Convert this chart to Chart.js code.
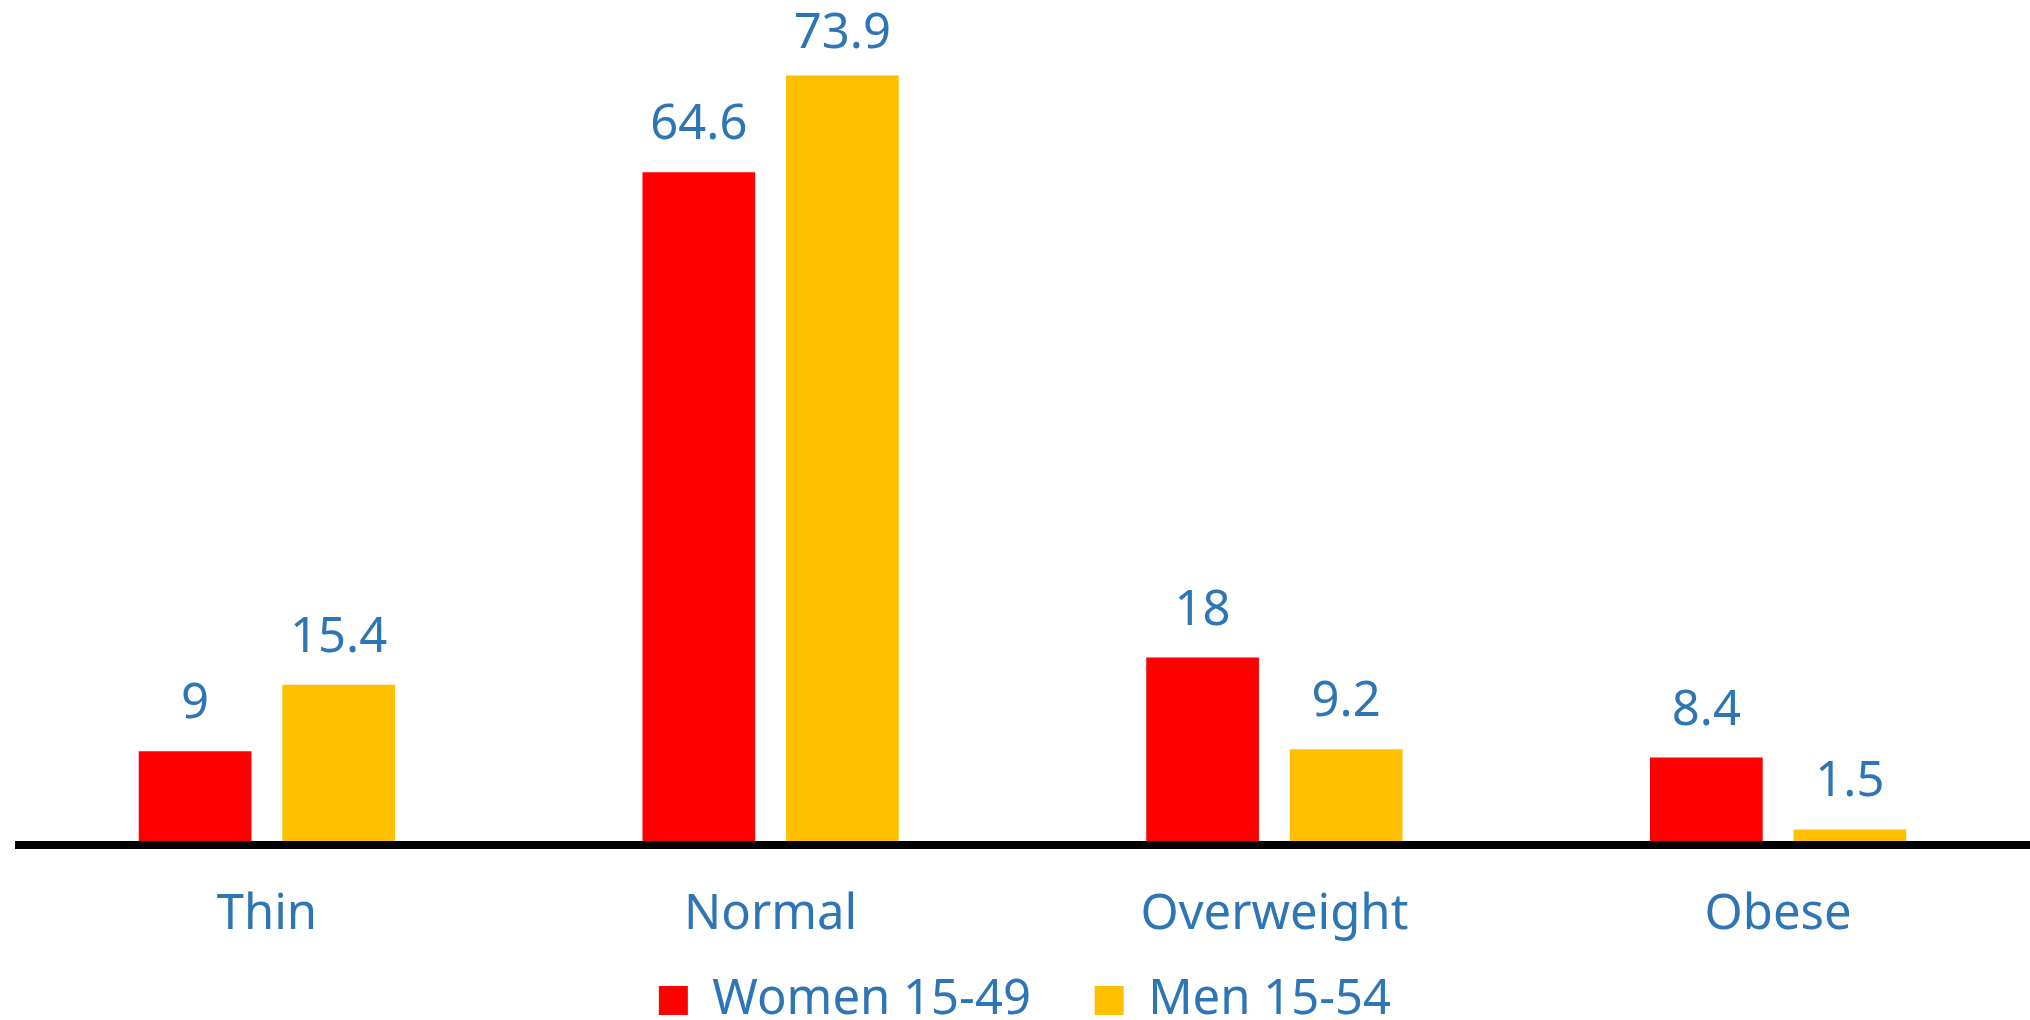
<!DOCTYPE html>
<html lang="en">
<head>
  <meta charset="UTF-8" />
  <title>Nutritional status</title>
  <script src="https://cdn.jsdelivr.net/npm/chart.js"></script>
  <style>
    html, body { margin: 0; padding: 0; background: #fff; overflow: hidden; }
    #wrap { width: 2030px; height: 1020px; }
  </style>
</head>
<body>
  <div id="wrap"><canvas id="chart"></canvas></div>
  <script>
    // data
    const categories = ['Thin', 'Normal', 'Overweight', 'Obese'];
    const women = [9, 64.6, 18, 8.4];
    const men = [15.4, 73.9, 9.2, 1.5];
    const seriesNames = ['Women 15-49', 'Men 15-54'];

    const textBlue = '#2E75B6';
    const font = { family: "'Noto Sans', sans-serif", size: 49 };

    // value labels above each bar
    const barLabels = {
      id: 'barLabels',
      afterDatasetsDraw(chart) {
        const ctx = chart.ctx;
        ctx.save();
        ctx.font = `${font.size}px ${font.family}`;
        ctx.fillStyle = textBlue;
        ctx.textAlign = 'center';
        ctx.textBaseline = 'alphabetic';
        chart.data.datasets.forEach((ds, i) => {
          chart.getDatasetMeta(i).data.forEach((bar, j) => {
            const y = Math.max(bar.y - 33, chart.chartArea.top + 36);
            ctx.fillText(String(ds.data[j]), bar.x, y);
          });
        });
        ctx.restore();
      }
    };

    new Chart(document.getElementById('chart'), {
      type: 'bar',
      data: {
        labels: categories,
        datasets: [
          { label: seriesNames[0], data: women, backgroundColor: '#FF0000' },
          { label: seriesNames[1], data: men, backgroundColor: '#FFC000' }
        ]
      },
      options: {
        responsive: true,
        maintainAspectRatio: false,
        animation: false,
        datasets: { bar: { categoryPercentage: 0.57, barPercentage: 0.785 } },
        layout: { padding: { left: 15, right: -5, top: 12, bottom: -15 } },
        plugins: {
          tooltip: { enabled: false },
          legend: {
            position: 'bottom',
            labels: {
              color: textBlue,
              font: font,
              boxWidth: 29,
              boxHeight: 29,
              padding: 0,
              // room between the two entries
              generateLabels(chart) {
                const items = Chart.defaults.plugins.legend.labels.generateLabels(chart);
                items[0].text += '     ';
                return items;
              }
            }
          }
        },
        scales: {
          x: {
            grid: { display: false },
            border: { display: false },
            ticks: { color: textBlue, font: font, padding: 33 },
            afterFit(scale) { scale.height = 131; }
          },
          y: {
            min: 0,
            max: 80,
            z: 1,
            ticks: { display: false },
            border: { display: false },
            grid: {
              drawTicks: false,
              lineWidth: 8,
              color: c => (c.tick && c.tick.value === 0 ? '#000' : 'rgba(0,0,0,0)')
            }
          }
        }
      },
      plugins: [barLabels]
    });
  </script>
</body>
</html>
